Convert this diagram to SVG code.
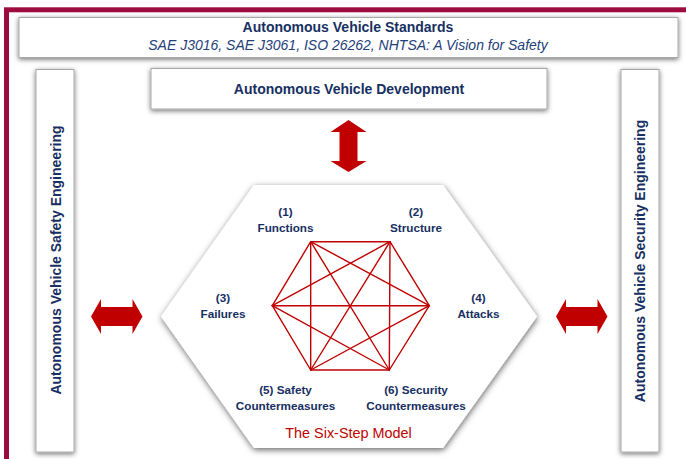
<svg xmlns="http://www.w3.org/2000/svg" width="686" height="459" viewBox="0 0 686 459">
  <defs>
    <filter id="softShadow" x="-20%" y="-20%" width="140%" height="140%">
      <feDropShadow dx="0" dy="1.5" stdDeviation="2.6" flood-color="#000" flood-opacity="0.55"/>
    </filter>
    <filter id="hexShadow" x="-10%" y="-10%" width="120%" height="120%">
      <feDropShadow dx="0.5" dy="2" stdDeviation="3" flood-color="#000" flood-opacity="0.6"/>
    </filter>
  </defs>
  <style>
    .box { fill: #ffffff; stroke: #a8a8a8; stroke-width: 1; filter: url(#softShadow); }
    .hdr { font-family: "Liberation Sans", Arial, sans-serif; font-weight: bold; font-size: 14px; fill: #172f62; text-anchor: middle; }
    .sub { font-family: "Liberation Sans", Arial, sans-serif; font-style: italic; font-size: 14px; fill: #24407a; text-anchor: middle; }
    .lbl { font-family: "Liberation Sans", Arial, sans-serif; font-weight: bold; font-size: 11.7px; fill: #172f62; text-anchor: middle; }
    .model { font-family: "Liberation Sans", Arial, sans-serif; font-size: 14.4px; fill: #c00000; text-anchor: middle; }
    .arrow { fill: #c00000; }
    .link { stroke: #c00000; stroke-width: 1.4; fill: none; stroke-linecap: round; }
  </style>

  <rect width="686" height="459" fill="#ffffff"/>

  <!-- crimson outer frame, open to the right and bottom -->
  <rect id="frame" x="6.5" y="9.8" width="700" height="470" fill="none" stroke="#9e0b3e" stroke-width="5"/>

  <g id="standards">
    <rect class="box" x="19" y="17.5" width="659" height="40"/>
    <text class="hdr" x="348" y="32">Autonomous Vehicle Standards</text>
    <text class="sub" x="348" y="50">SAE J3016, SAE J3061, ISO 26262, NHTSA: A Vision for Safety</text>
  </g>

  <g id="development">
    <rect class="box" x="151" y="68.5" width="396" height="40.5"/>
    <text class="hdr" x="349" y="94">Autonomous Vehicle Development</text>
  </g>

  <g id="safety-engineering">
    <rect class="box" x="36" y="69.5" width="38" height="382.5"/>
    <text class="hdr" transform="translate(60.5 260) rotate(-90)">Autonomous Vehicle Safety Engineering</text>
  </g>

  <g id="security-engineering">
    <rect class="box" x="621" y="69.5" width="38" height="382.5"/>
    <text class="hdr" transform="translate(645 261) rotate(-90)">Autonomous Vehicle Security Engineering</text>
  </g>

  <g id="six-step-model">
    <polygon points="254,185 443,185 537,316.5 443,448 254,448 161,316.5" fill="#ffffff" filter="url(#hexShadow)"/>
    <g id="six-step-links">
      <line class="link" x1="310.7" y1="241.7" x2="390" y2="241.7"/>
      <line class="link" x1="310.7" y1="241.7" x2="272.3" y2="305.7"/>
      <line class="link" x1="310.7" y1="241.7" x2="429.3" y2="305.7"/>
      <line class="link" x1="310.7" y1="241.7" x2="310.7" y2="370"/>
      <line class="link" x1="310.7" y1="241.7" x2="389.3" y2="370"/>
      <line class="link" x1="390" y1="241.7" x2="272.3" y2="305.7"/>
      <line class="link" x1="390" y1="241.7" x2="429.3" y2="305.7"/>
      <line class="link" x1="390" y1="241.7" x2="310.7" y2="370"/>
      <line class="link" x1="390" y1="241.7" x2="389.3" y2="370"/>
      <line class="link" x1="272.3" y1="305.7" x2="429.3" y2="305.7"/>
      <line class="link" x1="272.3" y1="305.7" x2="310.7" y2="370"/>
      <line class="link" x1="272.3" y1="305.7" x2="389.3" y2="370"/>
      <line class="link" x1="429.3" y1="305.7" x2="310.7" y2="370"/>
      <line class="link" x1="429.3" y1="305.7" x2="389.3" y2="370"/>
      <line class="link" x1="310.7" y1="370" x2="389.3" y2="370"/>
    </g>
    <g id="step-functions">
      <text class="lbl" x="285.5" y="216">(1)</text>
      <text class="lbl" x="285.5" y="232">Functions</text>
    </g>
    <g id="step-structure">
      <text class="lbl" x="416" y="216">(2)</text>
      <text class="lbl" x="416" y="232">Structure</text>
    </g>
    <g id="step-failures">
      <text class="lbl" x="223" y="302">(3)</text>
      <text class="lbl" x="223" y="318">Failures</text>
    </g>
    <g id="step-attacks">
      <text class="lbl" x="478.5" y="302">(4)</text>
      <text class="lbl" x="478.5" y="318">Attacks</text>
    </g>
    <g id="step-safety-countermeasures">
      <text class="lbl" x="285.5" y="394">(5) Safety</text>
      <text class="lbl" x="285.5" y="410">Countermeasures</text>
    </g>
    <g id="step-security-countermeasures">
      <text class="lbl" x="416" y="394">(6) Security</text>
      <text class="lbl" x="416" y="410">Countermeasures</text>
    </g>
    <text class="model" x="348.5" y="438">The Six-Step Model</text>
  </g>

  <g id="connectors">
    <!-- development <-> model -->
    <polygon class="arrow" points="348.5,120 366.5,132 357.5,132 357.5,161 366.5,161 348.5,172 330.5,161 339.5,161 339.5,132 330.5,132"/>
    <!-- safety engineering <-> model -->
    <polygon class="arrow" points="91,316.5 101,299 101,307 132.5,307 132.5,299 142.5,316.5 132.5,334 132.5,326 101,326 101,334"/>
    <!-- model <-> security engineering -->
    <polygon class="arrow" points="556,316.5 566,299 566,307 597.5,307 597.5,299 607.5,316.5 597.5,334 597.5,326 566,326 566,334"/>
  </g>
</svg>
